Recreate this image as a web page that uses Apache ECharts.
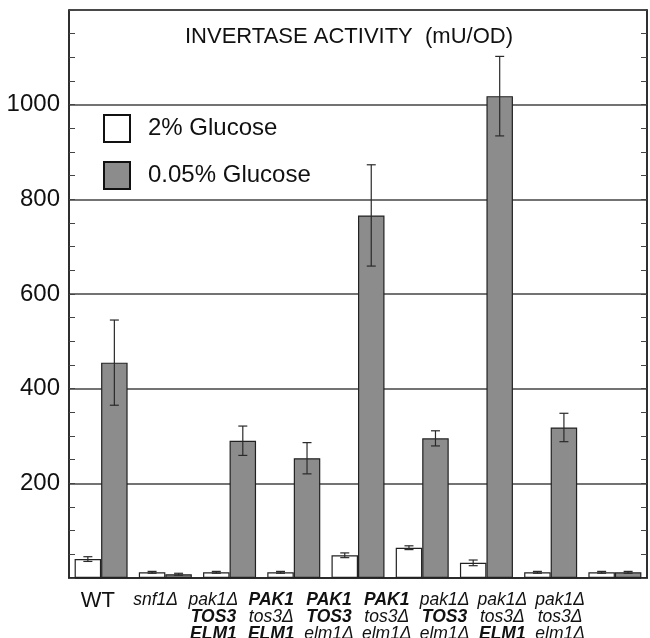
<!DOCTYPE html>
<html><head><meta charset="utf-8">
<script src="https://cdn.jsdelivr.net/npm/echarts@6/dist/echarts.min.js"></script>
<style>html,body{margin:0;padding:0;background:#fff}#c{width:650px;height:638px}</style>
</head><body><div id="c"></div>
<script>
const categories = ['WT', 'snf1Δ', 'pak1Δ\nTOS3\nELM1', 'PAK1\ntos3Δ\nELM1', 'PAK1\nTOS3\nelm1Δ', 'PAK1\ntos3Δ\nelm1Δ', 'pak1Δ\nTOS3\nelm1Δ', 'pak1Δ\ntos3Δ\nELM1', 'pak1Δ\ntos3Δ\nelm1Δ'];
const seriesNames = ['2% Glucose', '0.05% Glucose'];
const glucoseHigh = [40, 12, 12, 12, 48, 64, 32, 12, 12];
const glucoseHighErr = [5, 2, 2, 2, 5, 4, 6, 2, 2];
const glucoseLow = [455, 8, 290, 253, 766, 295, 1018, 318, 12];
const glucoseLowErr = [90, 2, 31, 33, 107, 16, 84, 30, 2];
const yTicks = [200, 400, 600, 800, 1000];
const titleText = 'INVERTASE ACTIVITY  (mU/OD)';

const FONT = '"Liberation Sans", Arial, sans-serif';
const BAR_W = 26.5;

function errData(vals, errs, side) {
  return vals.map((v, i) => [i, v - errs[i], v + errs[i], side]);
}

function renderErr(params, api) {
  const i = api.value(0), lo = api.value(1), hi = api.value(2), side = api.value(3);
  const pLo = api.coord([i, lo]);
  const pHi = api.coord([i, hi]);
  const x = pLo[0] + side * BAR_W / 2;
  const cap = 4.5;
  const st = { stroke: '#2a2a2a', lineWidth: 1.2 };
  return { type: 'group', children: [
    { type: 'line', shape: { x1: x, y1: pLo[1], x2: x, y2: pHi[1] }, style: st },
    { type: 'line', shape: { x1: x - cap, y1: pLo[1], x2: x + cap, y2: pLo[1] }, style: st },
    { type: 'line', shape: { x1: x - cap, y1: pHi[1], x2: x + cap, y2: pHi[1] }, style: st }
  ]};
}

function fmtCat(v) {
  return v.split('\n').map(line => {
    if (line === 'WT') return '{wt|' + line + '}';
    if (line.indexOf('Δ') >= 0) return '{it|' + line + '}';
    return '{bi|' + line + '}';
  }).join('\n');
}

const chart = echarts.init(document.getElementById('c'), null, { renderer: 'canvas' });
chart.setOption({
  animation: false,
  backgroundColor: '#fff',
  textStyle: { fontFamily: FONT },
  title: {
    text: titleText, left: 180, top: 21,
    textStyle: { fontFamily: FONT, fontSize: 22, fontWeight: 'normal', color: '#111' }
  },
  legend: {
    data: seriesNames, orient: 'vertical', left: 98, top: 109,
    itemWidth: 26, itemHeight: 27, itemGap: 18, icon: 'rect',
    itemStyle: { borderColor: '#111', borderWidth: 2 },
    textStyle: { fontFamily: FONT, fontSize: 24, color: '#111', padding: [2, 0, 0, 13] }
  },
  grid: [
    { left: 69, right: 3, top: 10, bottom: 60, show: true, borderColor: '#222', borderWidth: 1.5, backgroundColor: 'transparent', outerBoundsMode: 'none' },
    { left: 69, width: 520, top: 10, bottom: 60, show: false, outerBoundsMode: 'none' }
  ],
  xAxis: [
    { type: 'category', data: categories, gridIndex: 0,
      axisLine: { lineStyle: { color: '#222', width: 1.5 } },
      axisTick: { show: false }, axisLabel: { show: false } },
    { type: 'category', data: categories, gridIndex: 1,
      axisLine: { show: false }, axisTick: { show: false },
      axisLabel: { interval: 0, margin: 14, formatter: fmtCat, color: '#111',
        rich: {
          wt: { fontFamily: FONT, fontSize: 22, lineHeight: 17, color: '#111' },
          it: { fontFamily: FONT, fontSize: 17.5, fontStyle: 'italic', lineHeight: 17, color: '#111' },
          bi: { fontFamily: FONT, fontSize: 17.5, fontStyle: 'italic', fontWeight: 'bold', lineHeight: 17, color: '#111' }
        } } }
  ],
  yAxis: [
    { type: 'value', gridIndex: 0, min: 0, max: 1200, interval: 200,
      axisLine: { show: true, lineStyle: { color: '#222', width: 1.5 } },
      axisTick: { show: true, inside: true, length: 6, lineStyle: { color: '#444' } },
      minorTick: { show: true, splitNumber: 4, length: 6, lineStyle: { color: '#444' } },
      splitLine: { show: true, lineStyle: { color: '#444', width: 1.6 } },
      axisLabel: { margin: 9, fontFamily: FONT, fontSize: 24, color: '#111',
        formatter: v => (yTicks.indexOf(v) >= 0 ? String(v) : '') } },
    { type: 'value', gridIndex: 0, position: 'right', min: 0, max: 1200, interval: 200,
      axisLine: { show: true, lineStyle: { color: '#222', width: 1.5 } },
      axisTick: { show: true, inside: true, length: 6, lineStyle: { color: '#444' } },
      minorTick: { show: true, splitNumber: 4, length: 6, lineStyle: { color: '#444' } },
      splitLine: { show: false }, axisLabel: { show: false } },
    { type: 'value', gridIndex: 1, min: 0, max: 1, show: false }
  ],
  series: [
    { name: seriesNames[0], type: 'bar', xAxisIndex: 0, yAxisIndex: 0, data: glucoseHigh,
      barWidth: BAR_W, barGap: '0%',
      itemStyle: { color: '#ffffff', borderColor: '#222', borderWidth: 1.2 } },
    { name: seriesNames[1], type: 'bar', xAxisIndex: 0, yAxisIndex: 0, data: glucoseLow,
      barWidth: BAR_W, barGap: '0%',
      itemStyle: { color: '#8c8c8c', borderColor: '#222', borderWidth: 1.2 } },
    { type: 'custom', xAxisIndex: 0, yAxisIndex: 0, renderItem: renderErr,
      data: errData(glucoseHigh, glucoseHighErr, -1), z: 5 },
    { type: 'custom', xAxisIndex: 0, yAxisIndex: 0, renderItem: renderErr,
      data: errData(glucoseLow, glucoseLowErr, 1), z: 5 }
  ]
});
</script></body></html>
